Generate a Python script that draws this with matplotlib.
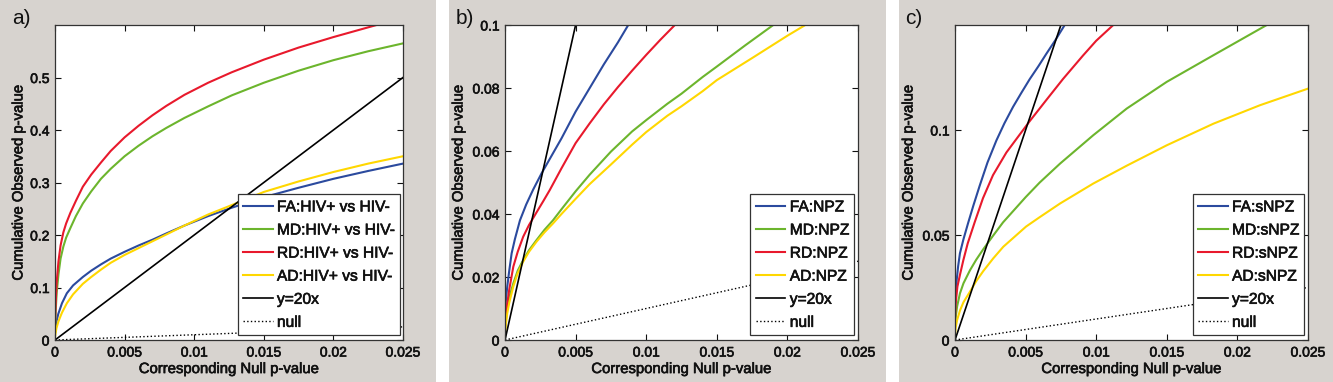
import matplotlib
matplotlib.use('Agg')
import matplotlib.pyplot as plt
import matplotlib.patheffects as pe
from matplotlib.patches import Rectangle

plt.rcParams['font.family'] = ['Liberation Sans', 'DejaVu Sans']

# colours of the four measures
c_fa = '#2b4a9e'
c_md = '#6cb52d'
c_rd = '#e8192c'
c_ad = '#ffd700'

# reference lines (shared by all panels)
ref_x = [0, 0.025]
y20_y = [0, 0.5]
null_y = [0, 0.025]

# ---- panel a: HIV+ vs HIV- ----
a_fa_x = [0, 0.0001, 0.00024, 0.0005, 0.00085, 0.0013, 0.002, 0.0026, 0.0033, 0.004, 0.005, 0.006,
          0.007, 0.008, 0.0093, 0.011, 0.0127, 0.015, 0.0175, 0.02, 0.0225, 0.025]
a_fa_y = [0.013, 0.035, 0.05, 0.07, 0.089, 0.104, 0.12, 0.132, 0.144, 0.155, 0.168, 0.18,
          0.191, 0.203, 0.218, 0.236, 0.252, 0.272, 0.29, 0.307, 0.322, 0.336]
a_md_x = [0, 0.00005, 0.00012, 0.00025, 0.0004, 0.0006, 0.0008, 0.0011, 0.0015, 0.002, 0.0026, 0.0033,
          0.004, 0.005, 0.006, 0.007, 0.008, 0.0093, 0.011, 0.0127, 0.015, 0.0175, 0.02, 0.0225, 0.025]
a_md_y = [0.02, 0.055, 0.09, 0.125, 0.155, 0.178, 0.195, 0.213, 0.236, 0.26, 0.283, 0.307,
          0.326, 0.35, 0.37, 0.388, 0.404, 0.423, 0.445, 0.466, 0.49, 0.513, 0.533, 0.55, 0.565]
a_rd_x = [0, 0.00005, 0.00012, 0.00025, 0.0004, 0.0006, 0.0008, 0.0011, 0.0015, 0.002, 0.0026, 0.0033,
          0.004, 0.005, 0.006, 0.007, 0.008, 0.0093, 0.011, 0.0127, 0.015, 0.0175, 0.02, 0.0231]
a_rd_y = [0.03, 0.07, 0.11, 0.15, 0.18, 0.205, 0.222, 0.242, 0.265, 0.292, 0.315, 0.338,
          0.36, 0.386, 0.408, 0.428, 0.446, 0.467, 0.49, 0.51, 0.534, 0.557, 0.577, 0.6]
a_ad_x = [0, 0.0001, 0.00024, 0.0005, 0.00085, 0.0013, 0.002, 0.0026, 0.0033, 0.004, 0.005, 0.006,
          0.007, 0.008, 0.0093, 0.011, 0.0127, 0.015, 0.0175, 0.02, 0.0225, 0.025]
a_ad_y = [0.006, 0.022, 0.035, 0.052, 0.07, 0.087, 0.107, 0.12, 0.134, 0.147, 0.162, 0.175,
          0.188, 0.201, 0.218, 0.239, 0.257, 0.282, 0.302, 0.32, 0.336, 0.35]

# ---- panel b: NPZ ----
b_fa_x = [0, 0.00005, 0.00016, 0.0003, 0.00047, 0.0007, 0.00106, 0.0015, 0.002, 0.0026, 0.0033,
          0.004, 0.005, 0.006, 0.007, 0.008, 0.00873]
b_fa_y = [0.008, 0.012, 0.017, 0.022, 0.0275, 0.032, 0.038, 0.043, 0.0478, 0.053, 0.0585,
          0.064, 0.0725, 0.08, 0.0875, 0.0945, 0.1]
b_md_x = [0, 0.00005, 0.00016, 0.0003, 0.00059, 0.0009, 0.00129, 0.0017, 0.00223, 0.0028, 0.0034,
          0.004, 0.005, 0.006, 0.0075, 0.009, 0.01, 0.0115, 0.0125, 0.014, 0.015, 0.017, 0.019]
b_md_y = [0.003, 0.006, 0.0106, 0.0135, 0.018, 0.022, 0.0254, 0.0285, 0.0317, 0.035, 0.038,
          0.0415, 0.0472, 0.0525, 0.0598, 0.0662, 0.0698, 0.075, 0.0782, 0.0835, 0.0868, 0.0935, 0.1]
b_rd_x = [0, 0.00005, 0.00016, 0.0003, 0.00059, 0.0009, 0.00129, 0.0017, 0.00223, 0.0027, 0.00317,
          0.004, 0.005, 0.006, 0.007, 0.008, 0.009, 0.01, 0.011, 0.01203]
b_rd_y = [0.004, 0.007, 0.0116, 0.016, 0.0233, 0.028, 0.0328, 0.0365, 0.0405, 0.044, 0.0476,
          0.0545, 0.0625, 0.0688, 0.0748, 0.0803, 0.0855, 0.0905, 0.0953, 0.1]
b_ad_x = [0, 0.00005, 0.00016, 0.0003, 0.00059, 0.0009, 0.00129, 0.0017, 0.00223, 0.0028, 0.0034,
          0.004, 0.005, 0.006, 0.0075, 0.009, 0.01, 0.0115, 0.0125, 0.014, 0.015, 0.0175, 0.02, 0.02127]
b_ad_y = [0.0016, 0.0045, 0.0085, 0.0118, 0.017, 0.0212, 0.0249, 0.028, 0.0312, 0.0342, 0.037,
          0.04, 0.0448, 0.0495, 0.0557, 0.062, 0.066, 0.0712, 0.0742, 0.079, 0.0825, 0.0895, 0.0966, 0.1]

# ---- panel c: sNPZ ----
c_fa_x = [0, 0.00004, 0.00012, 0.00022, 0.00035, 0.0006, 0.00092, 0.0013, 0.00175, 0.0023, 0.00293,
          0.0035, 0.00411, 0.0047, 0.00529, 0.0059, 0.00647, 0.0071, 0.00777]
c_fa_y = [0.0095, 0.02, 0.0286, 0.035, 0.0413, 0.048, 0.0555, 0.064, 0.0735, 0.0845, 0.095,
          0.1032, 0.111, 0.1177, 0.1242, 0.1303, 0.1363, 0.1427, 0.15]
c_md_x = [0, 0.00005, 0.00015, 0.00035, 0.0006, 0.00106, 0.0015, 0.002, 0.0027, 0.0034, 0.004,
          0.005, 0.006, 0.00744, 0.00979, 0.01216, 0.01499, 0.0183, 0.02208]
c_md_y = [0.006, 0.011, 0.016, 0.0222, 0.027, 0.0332, 0.0382, 0.0432, 0.0497, 0.056, 0.0605,
          0.068, 0.075, 0.084, 0.0975, 0.1102, 0.1229, 0.1356, 0.15]
c_rd_x = [0, 0.00004, 0.00017, 0.00035, 0.00059, 0.0009, 0.0014, 0.00198, 0.00269, 0.00364, 0.00458,
          0.00529, 0.00647, 0.00765, 0.00907, 0.01, 0.01121]
c_rd_y = [0.0095, 0.017, 0.0254, 0.031, 0.038, 0.046, 0.0562, 0.0675, 0.0785, 0.0893, 0.0978,
          0.1042, 0.1143, 0.1243, 0.1355, 0.1425, 0.15]
c_ad_x = [0, 0.00005, 0.00015, 0.00035, 0.0006, 0.00106, 0.0015, 0.002, 0.0027, 0.00342, 0.00503,
          0.006, 0.00744, 0.00979, 0.01216, 0.01499, 0.0183, 0.0216, 0.025]
c_ad_y = [0.002, 0.006, 0.0095, 0.014, 0.018, 0.023, 0.028, 0.0328, 0.0388, 0.0444, 0.054,
          0.0585, 0.065, 0.0745, 0.083, 0.0927, 0.103, 0.1118, 0.1197]

x_ticks = [0, 0.005, 0.01, 0.015, 0.02, 0.025]
x_ticklabels = ['0', '0.005', '0.01', '0.015', '0.02', '0.025']

panels = [
    dict(tag='a)', name='HIV+ vs HIV-', ylim=0.6,
         yticks=[0, 0.1, 0.2, 0.3, 0.4, 0.5], ylabels=['0', '0.1', '0.2', '0.3', '0.4', '0.5'],
         fa=(a_fa_x, a_fa_y), md=(a_md_x, a_md_y), rd=(a_rd_x, a_rd_y), ad=(a_ad_x, a_ad_y)),
    dict(tag='b)', name='NPZ', ylim=0.1,
         yticks=[0, 0.02, 0.04, 0.06, 0.08, 0.1], ylabels=['0', '0.02', '0.04', '0.06', '0.08', '0.1'],
         fa=(b_fa_x, b_fa_y), md=(b_md_x, b_md_y), rd=(b_rd_x, b_rd_y), ad=(b_ad_x, b_ad_y)),
    dict(tag='c)', name='sNPZ', ylim=0.15,
         yticks=[0, 0.05, 0.1], ylabels=['0', '0.05', '0.1'],
         fa=(c_fa_x, c_fa_y), md=(c_md_x, c_md_y), rd=(c_rd_x, c_rd_y), ad=(c_ad_x, c_ad_y)),
]

W, H = 1333, 382
fig = plt.figure(figsize=(W / 100, H / 100), dpi=100)

# slightly heavier text, like the blurred original
heavy = [pe.withStroke(linewidth=0.45, foreground='#111111')]

# grey panel backgrounds (pixel spans)
bg = [(0, 436), (449, 886), (899, 1333)]
for x0, x1 in bg:
    fig.patches.append(Rectangle((x0 / W, 0), (x1 - x0) / W, 1, transform=fig.transFigure,
                                 facecolor='#d7d3cf', edgecolor='none', zorder=-10))

ax_px = [(55, 403), (505, 858), (955, 1308)]
ylab_x = [-0.085, -0.112, -0.112]
tag_x = [12, 456, 905]

for p, (l, r), yl, tx in zip(panels, ax_px, ylab_x, tag_x):
    ax = fig.add_axes([l / W, (H - 340) / H, (r - l) / W, 315 / H])
    ax.plot(p['fa'][0], p['fa'][1], color=c_fa, lw=1.5, label='FA:' + p['name'])
    ax.plot(p['md'][0], p['md'][1], color=c_md, lw=1.5, label='MD:' + p['name'])
    ax.plot(p['rd'][0], p['rd'][1], color=c_rd, lw=1.5, label='RD:' + p['name'])
    ax.plot(p['ad'][0], p['ad'][1], color=c_ad, lw=1.5, label='AD:' + p['name'])
    ax.plot(ref_x, y20_y, color='black', lw=1.2, label='y=20x')
    ax.plot(ref_x, null_y, color='black', lw=1.0, ls=':', label='null')

    ax.set_xlim(0, 0.025)
    ax.set_ylim(0, p['ylim'])
    ax.set_xticks(x_ticks)
    ax.set_xticklabels(x_ticklabels)
    ax.set_yticks(p['yticks'])
    ax.set_yticklabels(p['ylabels'])
    ax.tick_params(direction='in', top=True, right=True, length=4, width=0.8,
                   labelsize=10, colors='#111111', pad=4)
    for t in ax.get_xticklabels() + ax.get_yticklabels():
        t.set_path_effects(heavy)
    for s in ax.spines.values():
        s.set_color('#333333')
        s.set_linewidth(0.9)

    ax.set_xlabel('Corresponding Null p-value', fontsize=10.7, color='#111111', path_effects=heavy)
    ax.set_ylabel('Cumulative Observed p-value', fontsize=10.7, color='#111111', path_effects=heavy)
    ax.xaxis.set_label_coords(0.5, -0.07)
    ax.yaxis.set_label_coords(yl, 0.5)

    leg = ax.legend(loc='lower right', bbox_to_anchor=(0.99, 0.015), borderaxespad=0,
                    fontsize=11.2, frameon=True, fancybox=False, framealpha=1,
                    edgecolor='#333333', handlelength=1.9, handletextpad=0.28,
                    labelspacing=0.52, borderpad=0.35)
    leg.get_frame().set_linewidth(0.9)
    for t in leg.get_texts():
        t.set_color('#111111')
        t.set_path_effects(heavy)

    fig.text(tx / W, 1 - 18 / H, p['tag'], fontsize=15, va='center', ha='left',
             color='#111111')

plt.savefig('out.png', dpi=100)
